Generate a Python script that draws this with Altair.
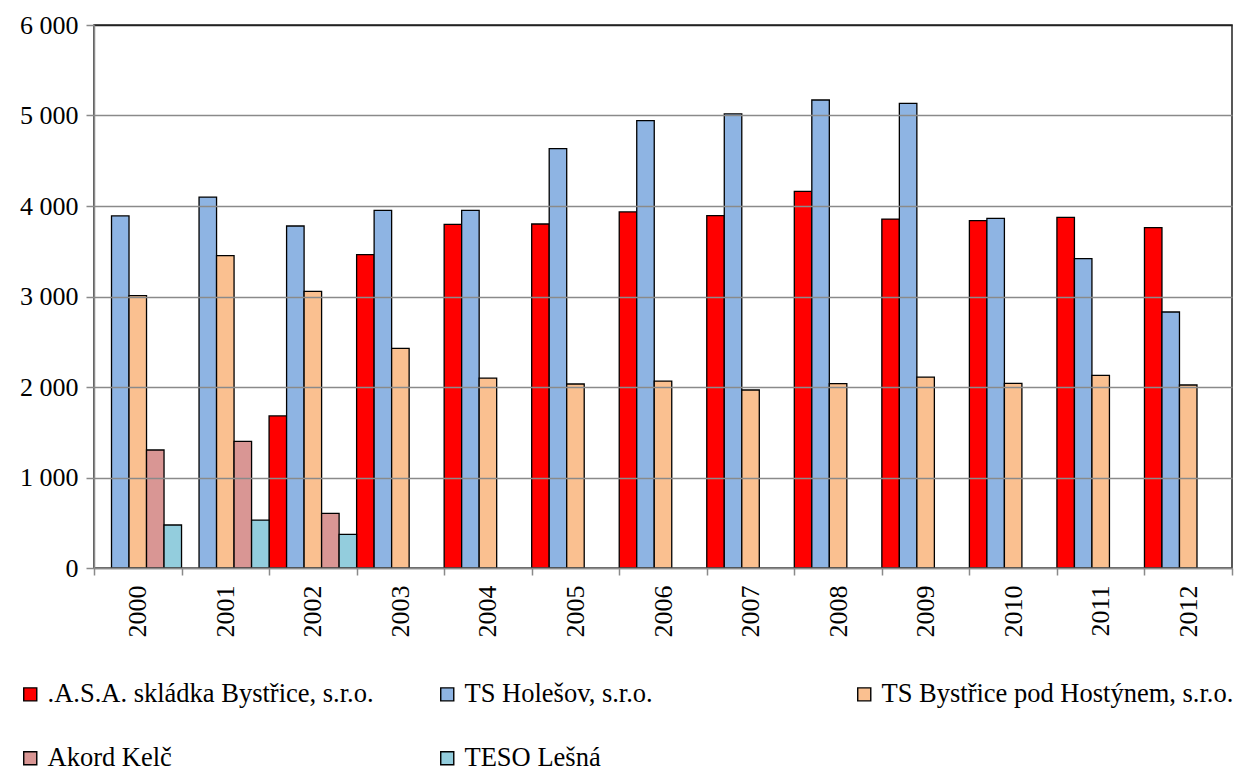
import altair as alt
import pandas as pd

years = [str(y) for y in range(2000, 2013)]
series = [".A.S.A. skládka Bystřice, s.r.o.", "TS Holešov, s.r.o.",
          "TS Bystřice pod Hostýnem, s.r.o.", "Akord Kelč", "TESO Lešná"]
colors = ["#FF0000", "#8EB4E3", "#FAC090", "#D99694", "#93CDDD"]

asa = [None, None, 1680, 3462, 3797, 3801, 3934, 3893, 4162, 3856, 3838, 3875, 3760]
holesov = [3890, 4099, 3779, 3952, 3952, 4634, 4943, 5017, 5171, 5134, 3864, 3418, 2829]
bystrice = [3009, 3451, 3057, 2427, 2099, 2033, 2066, 1967, 2037, 2110, 2041, 2129, 2022]
akord = [1304, 1400, 604, None, None, None, None, None, None, None, None, None, None]
teso = [475, 530, 372, None, None, None, None, None, None, None, None, None, None]

rows = []
for name, vals in zip(series, [asa, holesov, bystrice, akord, teso]):
    for y, v in zip(years, vals):
        if v is not None:
            rows.append({"rok": y, "firma": name, "hodnota": v})
df = pd.DataFrame(rows)

FONT = "Liberation Serif"
GRAY = "#8a8a8a"
DARK = "#222222"

chart = alt.Chart(df).mark_bar(stroke="black", strokeWidth=1.3).encode(
    x=alt.X("rok:N", sort=years,
            scale=alt.Scale(paddingInner=0, paddingOuter=0),
            axis=alt.Axis(title=None, labelAngle=270, tickBand="extent",
                          labelFontSize=26, labelFont=FONT, labelColor="black",
                          labelPadding=10, tickSize=7, tickColor=GRAY, tickWidth=1.5,
                          domainColor=GRAY, domainWidth=1.5, grid=False, zindex=1)),
    xOffset=alt.XOffset("firma:N", sort=series,
                        scale=alt.Scale(domain=series, paddingInner=0, paddingOuter=0)),
    y=alt.Y("hodnota:Q",
            scale=alt.Scale(domain=[0, 6000], nice=False),
            axis=alt.Axis(title=None, values=[0, 1000, 2000, 3000, 4000, 5000, 6000],
                          labelExpr="replace(format(datum.value, ','), ',', ' ')",
                          labelFontSize=26, labelFont=FONT, labelColor="black",
                          labelPadding=8, tickSize=8, tickColor=GRAY, tickWidth=1.5,
                          domainColor=GRAY, domainWidth=1.5,
                          grid=True,
                          gridColor={"condition": {"test": "datum.value === 6000", "value": DARK},
                                     "value": GRAY},
                          gridWidth=1.3, zindex=1)),
    color=alt.Color("firma:N", sort=series,
                    scale=alt.Scale(domain=series, range=colors),
                    legend=alt.Legend(title=None, orient="none", legendX=-77, legendY=656,
                                      direction="horizontal",
                                      columns=3, gridAlign="all", columnPadding=34,
                                      rowPadding=37, symbolType="square", symbolSize=170,
                                      symbolStrokeColor="black", symbolStrokeWidth=1.4,
                                      labelFontSize=26.5, labelFont=FONT, labelColor="black",
                                      labelOffset=4, labelLimit=600, padding=0)),
).properties(
    width=1138, height=543,
    autosize=alt.AutoSizeParams(type="none"),
    padding={"left": 86, "top": 17, "right": 4, "bottom": 205},
).configure(
    font=FONT
).configure_axis(
    labelFont=FONT
).configure_legend(
    labelFont=FONT
).configure_view(
    stroke=DARK, strokeWidth=1.5
)

chart.save("out.html", embed_options={"renderer": "svg", "actions": False})
